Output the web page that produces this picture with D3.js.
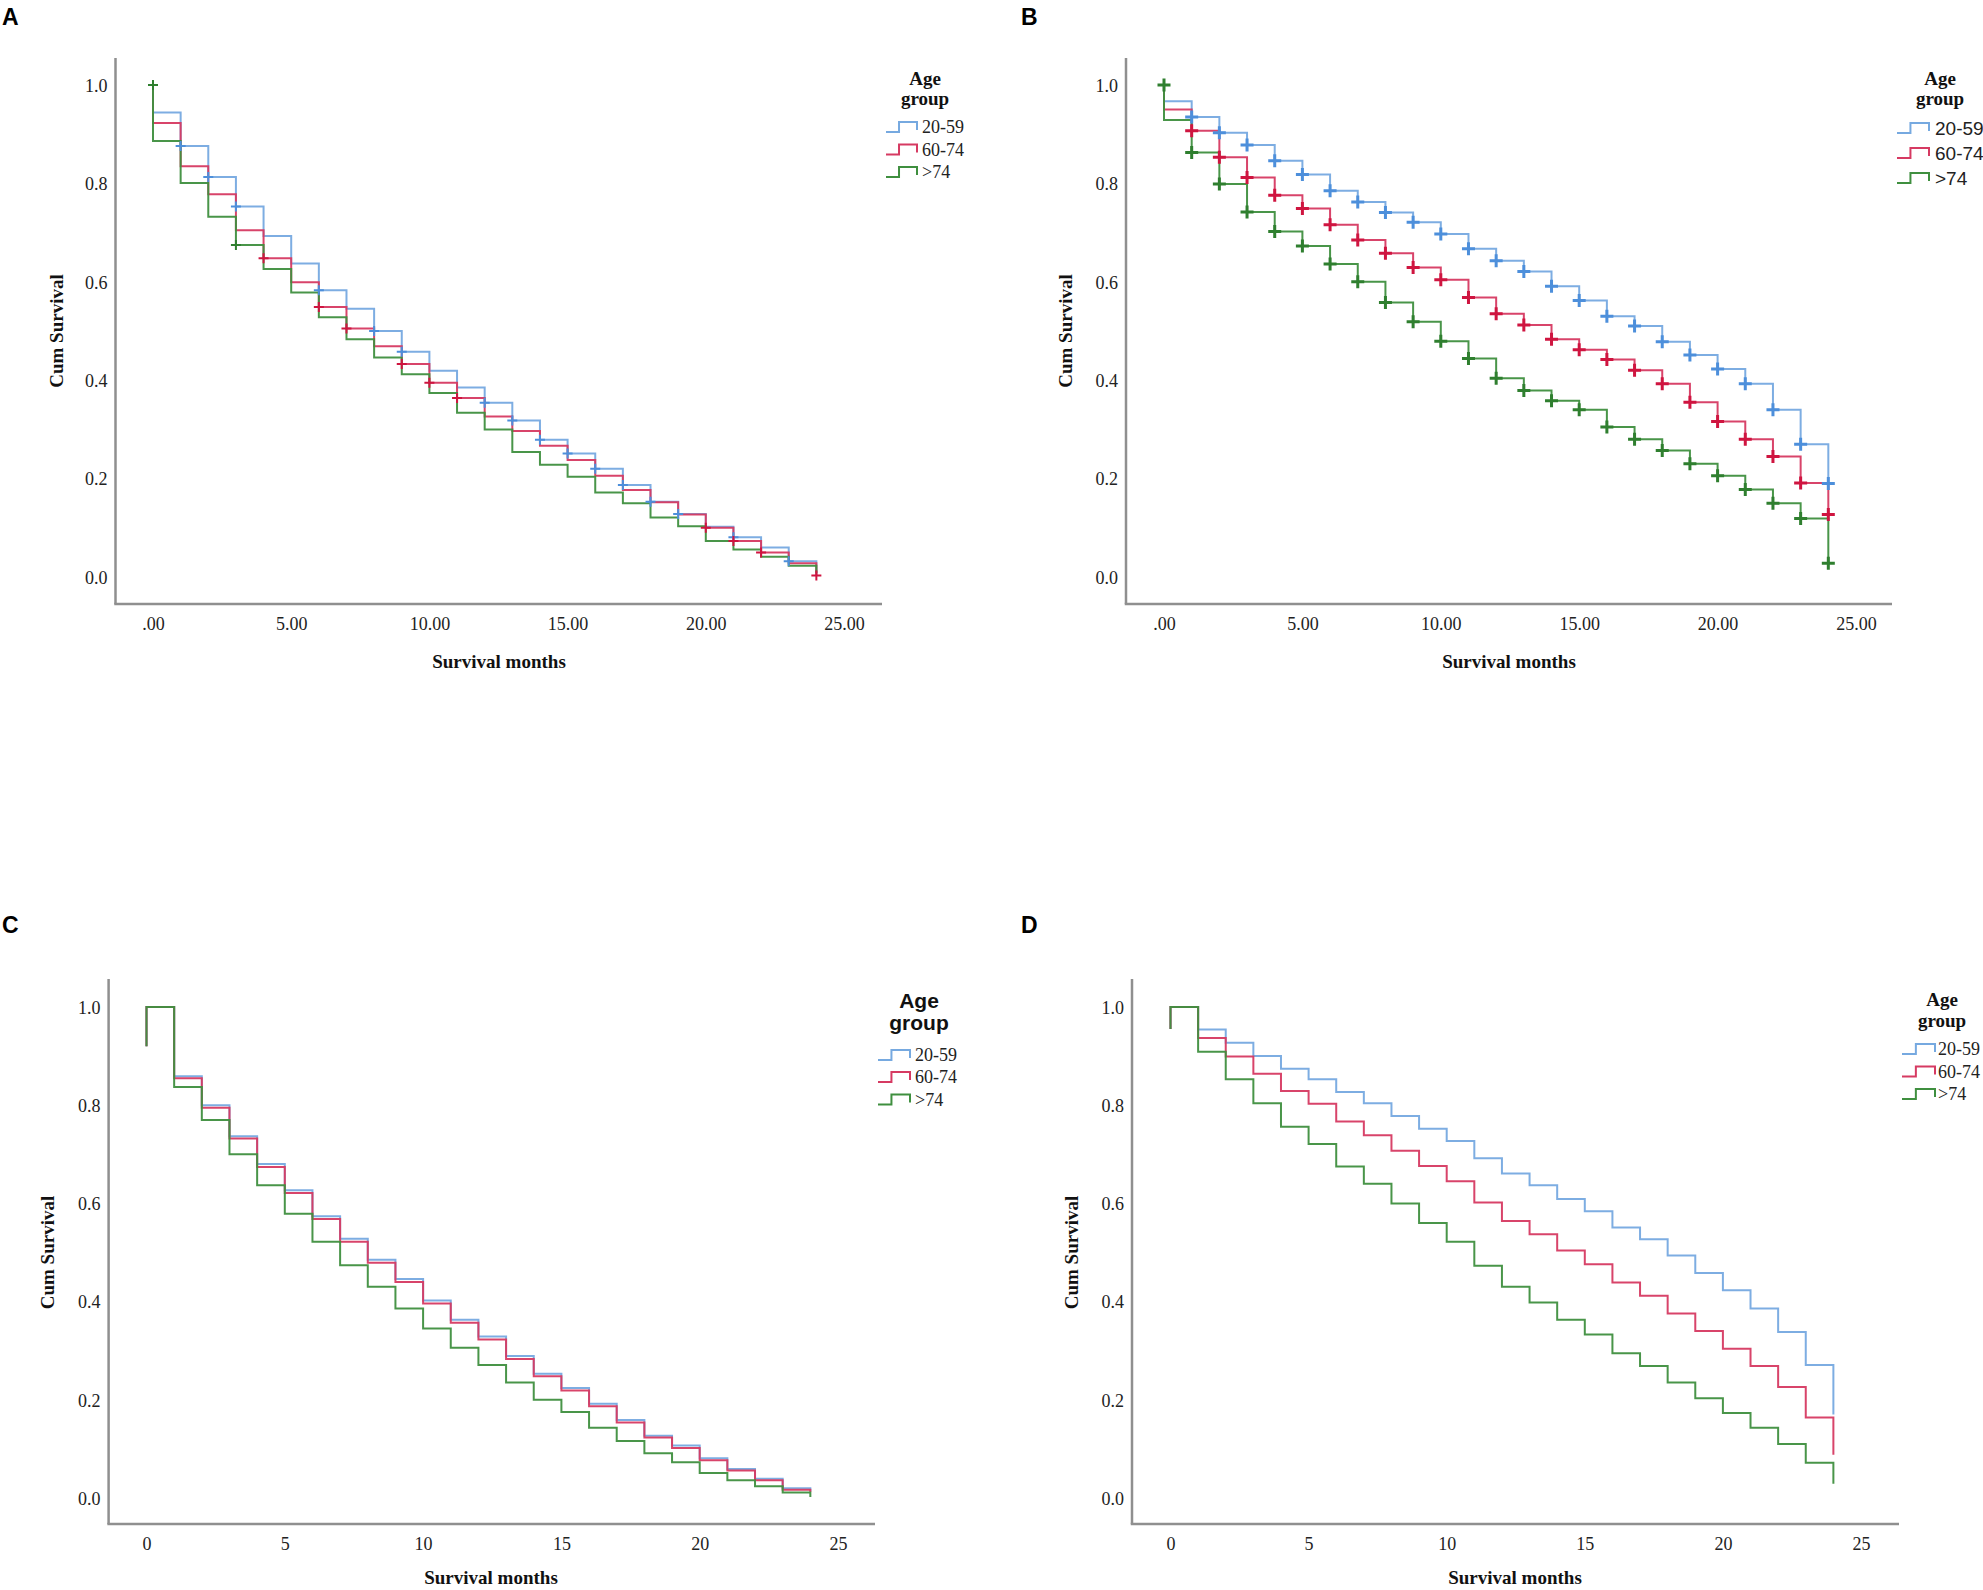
<!DOCTYPE html>
<html>
<head>
<meta charset="utf-8">
<script src="https://cdn.jsdelivr.net/npm/d3@7"></script>
<style>
  html, body { margin: 0; padding: 0; background: #fff; }
  svg { display: block; }
</style>
</head>
<body>
<svg id="chart" width="1983" height="1590"></svg>
<script>
// ---------------- DATA ----------------
const months = [0,1,2,3,4,5,6,7,8,9,10,11,12,13,14,15,16,17,18,19,20,21,22,23,24];
const groups = ["20-59", "60-74", ">74"];
const yTickValues = [0, 0.2, 0.4, 0.6, 0.8, 1.0];
const yTickLabels = ["0.0", "0.2", "0.4", "0.6", "0.8", "1.0"];
const xTickValues = [0, 5, 10, 15, 20, 25];
const xTickLabelsAB = [".00", "5.00", "10.00", "15.00", "20.00", "25.00"];
const xTickLabelsCD = ["0", "5", "10", "15", "20", "25"];

// survival level after the step at each month (index = month)
const survA_2059 = [0.944,0.876,0.813,0.753,0.693,0.637,0.583,0.545,0.500,0.458,0.419,0.385,0.354,0.318,0.279,0.251,0.220,0.187,0.153,0.128,0.102,0.081,0.060,0.032,0.005];
const survA_6074 = [0.923,0.835,0.778,0.705,0.648,0.599,0.549,0.505,0.469,0.433,0.395,0.364,0.326,0.297,0.267,0.238,0.206,0.177,0.152,0.127,0.100,0.073,0.050,0.028,0.003];
const survA_74   = [0.886,0.801,0.732,0.675,0.626,0.578,0.528,0.483,0.446,0.412,0.374,0.334,0.300,0.254,0.228,0.204,0.172,0.150,0.121,0.103,0.073,0.056,0.041,0.023,0.008];

const survB_2059 = [0.967,0.935,0.903,0.878,0.846,0.818,0.785,0.762,0.741,0.721,0.697,0.667,0.643,0.621,0.591,0.562,0.530,0.510,0.478,0.451,0.423,0.393,0.340,0.270,0.190];
const survB_6074 = [0.950,0.907,0.853,0.812,0.776,0.749,0.716,0.685,0.658,0.629,0.604,0.568,0.535,0.512,0.483,0.462,0.442,0.420,0.393,0.355,0.316,0.280,0.245,0.191,0.127];
const survB_74   = [0.929,0.863,0.799,0.742,0.702,0.673,0.636,0.600,0.558,0.519,0.479,0.444,0.404,0.379,0.358,0.340,0.305,0.280,0.257,0.230,0.206,0.178,0.150,0.119,0.028];

const survC_2059 = [1.000,0.859,0.800,0.737,0.680,0.627,0.574,0.528,0.485,0.446,0.402,0.363,0.329,0.289,0.253,0.224,0.192,0.159,0.127,0.107,0.081,0.059,0.039,0.020,0.014];
const survC_6074 = [1.000,0.855,0.795,0.732,0.674,0.621,0.568,0.522,0.479,0.440,0.396,0.357,0.323,0.283,0.248,0.219,0.187,0.154,0.123,0.102,0.077,0.056,0.036,0.017,0.012];
const survC_74   = [1.000,0.837,0.770,0.700,0.637,0.579,0.522,0.474,0.430,0.386,0.345,0.306,0.271,0.235,0.200,0.175,0.143,0.116,0.091,0.073,0.051,0.036,0.024,0.011,0.002];

const survD_2059 = [1.000,0.954,0.927,0.900,0.874,0.853,0.827,0.804,0.778,0.752,0.727,0.692,0.661,0.637,0.609,0.584,0.551,0.527,0.494,0.458,0.423,0.386,0.338,0.271,0.170];
const survD_6074 = [1.000,0.937,0.899,0.864,0.829,0.803,0.767,0.739,0.707,0.676,0.645,0.602,0.564,0.537,0.504,0.476,0.439,0.412,0.376,0.340,0.304,0.269,0.226,0.164,0.088];
const survD_74   = [1.000,0.909,0.853,0.804,0.756,0.721,0.675,0.640,0.600,0.560,0.522,0.473,0.430,0.398,0.363,0.333,0.295,0.269,0.235,0.203,0.173,0.143,0.110,0.072,0.029];

// level at which each curve begins at month 0
const startAB = [1.0, 1.0, 1.0];
const startC  = [0.92, 0.92, 0.92];
const startD  = [0.955, 0.955, 0.955];

// censored-case marks (months)
const censA_2059 = [1,2,3,6,8,9,12,13,14,15,16,17,18,19,21,23];
const censA_6074 = [4,6,7,9,10,11,20,21,22,24];
const censA_74   = [0,3];
const censB_2059 = [1,2,3,4,5,6,7,8,9,10,11,12,13,14,15,16,17,18,19,20,21,22,23,24];
const censB_6074 = [1,2,3,4,5,6,7,8,9,10,11,12,13,14,15,16,17,18,19,20,21,22,23,24];
const censB_74   = [0,1,2,3,4,5,6,7,8,9,10,11,12,13,14,15,16,17,18,19,20,21,22,23,24];

// ---------------- STYLE ----------------
const lineColors = ["#76a9e0", "#d63a62", "#3f8f3f"];
const markColors = ["#4d8fdb", "#cf1540", "#2f7f2f"];
const axisColor = "#8f8f8f";
const serif = "'Liberation Serif', 'Times New Roman', serif";
const sans = "'Liberation Sans', Arial, sans-serif";

const panels = [
  { label: "A", lx: 2, ly: 25, x0: 153, x25: 844, y1: 85, y0: 577,
    axL: 115.5, axR: 882, axT: 58, axB: 604, titleY: 668,
    xLabels: xTickLabelsAB, series: [survA_2059, survA_6074, survA_74], start: startAB,
    cens: [censA_2059, censA_6074, censA_74], markSize: 5, markW: 2,
    ylabX: 56, xTitleX: 499,
    leg: { cx: 925, ageY: 78, grpY: 98, titleFont: serif, titleSize: 19, items: [127, 149.5, 172], symX0: 886, symX1: 917, textX: 922, itemFont: serif, itemSize: 18 } },
  { label: "B", lx: 1021, ly: 25, x0: 1164, x25: 1856, y1: 85, y0: 577,
    axL: 1126, axR: 1892, axT: 58, axB: 604, titleY: 668,
    xLabels: xTickLabelsAB, series: [survB_2059, survB_6074, survB_74], start: startAB,
    cens: [censB_2059, censB_6074, censB_74], markSize: 6.5, markW: 3,
    ylabX: 1065, xTitleX: 1509,
    leg: { cx: 1940, ageY: 78, grpY: 98, titleFont: serif, titleSize: 19, items: [128, 153, 178], symX0: 1897, symX1: 1929, textX: 1935, itemFont: sans, itemSize: 19 } },
  { label: "C", lx: 2, ly: 933, x0: 146.5, x25: 838, y1: 1007, y0: 1498,
    axL: 108.6, axR: 875, axT: 979, axB: 1524, titleY: 1584,
    xLabels: xTickLabelsCD, series: [survC_2059, survC_6074, survC_74], start: startC,
    cens: [[], [], []], markSize: 5, markW: 2,
    ylabX: 47.5, xTitleX: 491,
    leg: { cx: 919, ageY: 1001, grpY: 1023, titleFont: sans, titleSize: 21, items: [1055, 1077, 1099.5], symX0: 878, symX1: 910, textX: 915, itemFont: serif, itemSize: 18 } },
  { label: "D", lx: 1021, ly: 933, x0: 1170.5, x25: 1861, y1: 1007, y0: 1498,
    axL: 1132, axR: 1899, axT: 979, axB: 1524, titleY: 1584,
    xLabels: xTickLabelsCD, series: [survD_2059, survD_6074, survD_74], start: startD,
    cens: [[], [], []], markSize: 5, markW: 2,
    ylabX: 1071, xTitleX: 1515,
    leg: { cx: 1942, ageY: 999, grpY: 1020, titleFont: serif, titleSize: 19, items: [1049, 1071.5, 1094], symX0: 1902, symX1: 1935, textX: 1938, itemFont: serif, itemSize: 18 } }
];

const svg = d3.select("#chart");

panels.forEach(p => {
  const g = svg.append("g");
  const x = d3.scaleLinear().domain([0, 25]).range([p.x0, p.x25]);
  const y = d3.scaleLinear().domain([0, 1]).range([p.y0, p.y1]);

  // panel letter
  g.append("text").attr("x", p.lx).attr("y", p.ly)
    .attr("font-family", sans).attr("font-weight", "bold").attr("font-size", 23)
    .attr("fill", "#000").text(p.label);

  // axis lines
  g.append("line").attr("x1", p.axL).attr("x2", p.axL).attr("y1", p.axT).attr("y2", p.axB)
    .attr("stroke", axisColor).attr("stroke-width", 2.5);
  g.append("line").attr("x1", p.axL - 1.25).attr("x2", p.axR).attr("y1", p.axB).attr("y2", p.axB)
    .attr("stroke", axisColor).attr("stroke-width", 2.5);

  // y tick labels
  const yAxis = d3.axisLeft(y).tickValues(yTickValues)
    .tickFormat((d, i) => yTickLabels[i]).tickSize(0).tickPadding(0);
  const yg = g.append("g").attr("transform", `translate(${p.axL - 8},0)`).call(yAxis);
  yg.select(".domain").remove();
  yg.selectAll("text").attr("font-family", serif).attr("font-size", 18).attr("fill", "#222")
    .attr("dy", "0.35em");

  // x tick labels
  const xAxis = d3.axisBottom(x).tickValues(xTickValues)
    .tickFormat((d, i) => p.xLabels[i]).tickSize(0).tickPadding(0);
  const xg = g.append("g").attr("transform", `translate(0,${p.axB + 14})`).call(xAxis);
  xg.select(".domain").remove();
  xg.selectAll("text").attr("font-family", serif).attr("font-size", 18).attr("fill", "#222")
    .attr("dy", "0.35em").attr("y", 6);

  // axis titles
  g.append("text").attr("x", p.xTitleX).attr("y", p.titleY)
    .attr("text-anchor", "middle").attr("font-family", serif).attr("font-weight", "bold")
    .attr("font-size", 19).attr("fill", "#111").text("Survival months");
  const midY = (p.y0 + p.y1) / 2;
  g.append("text").attr("transform", `translate(${p.ylabX},${midY}) rotate(-90)`)
    .attr("text-anchor", "middle").attr("dy", "0.35em").attr("font-family", serif)
    .attr("font-weight", "bold").attr("font-size", 19).attr("fill", "#111").text("Cum Survival");

  // step curves
  const line = d3.line().x(d => x(d[0])).y(d => y(d[1])).curve(d3.curveStepAfter);
  p.series.forEach((vals, si) => {
    const pts = [[0, p.start[si]]].concat(months.map(m => [m, vals[m]]));
    g.append("path").attr("d", line(pts)).attr("fill", "none")
      .attr("stroke", lineColors[si]).attr("stroke-width", 2)
      .attr("stroke-linejoin", "miter").attr("stroke-opacity", 0.95);
  });

  // censor marks
  p.series.forEach((vals, si) => {
    p.cens[si].forEach(m => {
      const v = m === 0 ? p.start[si] : vals[m];
      const cx = x(m), cy = y(v);
      g.append("path")
        .attr("d", `M${cx - p.markSize},${cy}H${cx + p.markSize}M${cx},${cy - p.markSize}V${cy + p.markSize}`)
        .attr("stroke", markColors[si]).attr("stroke-width", p.markW).attr("fill", "none");
    });
  });

  // legend
  const L = p.leg;
  g.append("text").attr("x", L.cx).attr("y", L.ageY).attr("dy", "0.35em")
    .attr("text-anchor", "middle").attr("font-family", L.titleFont).attr("font-weight", "bold")
    .attr("font-size", L.titleSize).attr("fill", "#111").text("Age");
  g.append("text").attr("x", L.cx).attr("y", L.grpY).attr("dy", "0.35em")
    .attr("text-anchor", "middle").attr("font-family", L.titleFont).attr("font-weight", "bold")
    .attr("font-size", L.titleSize).attr("fill", "#111").text("group");
  groups.forEach((name, gi) => {
    const cy = L.items[gi];
    const xm = L.symX0 + (L.symX1 - L.symX0) * 0.42;
    g.append("path")
      .attr("d", `M${L.symX0},${cy + 5}H${xm}V${cy - 5}H${L.symX1}V${cy + 3}`)
      .attr("fill", "none").attr("stroke", lineColors[gi]).attr("stroke-width", 2);
    g.append("text").attr("x", L.textX).attr("y", cy).attr("dy", "0.35em")
      .attr("font-family", L.itemFont).attr("font-size", L.itemSize).attr("fill", "#222").text(name);
  });
});
</script>
</body>
</html>
